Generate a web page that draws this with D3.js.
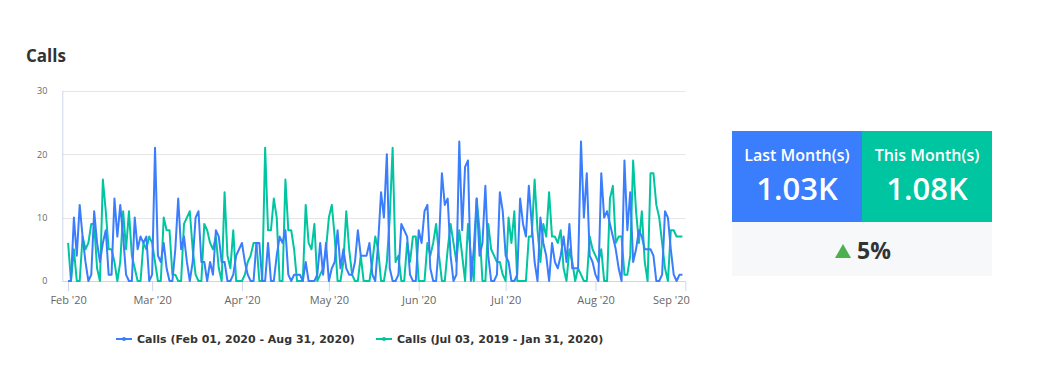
<!DOCTYPE html>
<html>
<head>
<meta charset="utf-8">
<script src="https://cdn.jsdelivr.net/npm/d3@7/dist/d3.min.js"></script>
<style>
  body { margin: 0; background: #fff; font-family: "Open Sans", sans-serif; }
</style>
</head>
<body>
<div id="chart"></div>
<script>
// daily calls, first series starts Feb 01 2020, 213 days
var startDate = new Date(2020, 1, 1);

var currentCalls = [
  0, 0, 10, 4, 12, 7, 3, 0, 1, 11,
  6, 3, 6, 8, 1, 1, 13, 7, 12, 7,
  1, 0, 0, 10, 5, 7, 6, 7, 0, 1,
  21, 4, 3, 6, 2, 0, 0, 5, 13, 5,
  7, 3, 0, 3, 10, 11, 3, 3, 0, 3,
  1, 8, 7, 3, 3, 0, 0, 1, 4, 5,
  6, 3, 1, 0, 0, 6, 6, 0, 0, 6,
  0, 0, 4, 7, 6, 8, 1, 0, 1, 1,
  1, 0, 3, 0, 0, 0, 1, 6, 1, 6,
  0, 2, 3, 8, 2, 5, 2, 1, 1, 3,
  8, 4, 4, 4, 6, 1, 0, 6, 14, 10,
  20, 2, 0, 0, 1, 9, 8, 7, 1, 0,
  0, 8, 6, 11, 12, 2, 0, 0, 6, 17,
  12, 13, 4, 0, 1, 22, 8, 18, 19, 0,
  5, 13, 4, 6, 15, 4, 0, 0, 1, 14,
  11, 4, 3, 0, 0, 1, 13, 9, 7, 15,
  9, 3, 0, 10, 6, 4, 0, 6, 3, 2,
  4, 7, 3, 9, 2, 2, 2, 22, 10, 17,
  4, 3, 1, 0, 17, 10, 11, 9, 7, 5,
  2, 0, 19, 8, 14, 3, 5, 8, 7, 5,
  5, 5, 4, 0, 0, 1, 11, 10, 5, 1,
  0, 1, 1
];

// previous period (Jul 03 2019 - Jan 31 2020), drawn on the same days
var previousCalls = [
  6, 0, 5, 0, 0, 7, 5, 6, 9, 9,
  2, 0, 16, 11, 5, 5, 3, 0, 3, 11,
  5, 11, 4, 2, 0, 0, 6, 5, 7, 6,
  3, 0, 0, 10, 8, 8, 1, 1, 0, 0,
  9, 10, 11, 5, 1, 0, 0, 9, 8, 6,
  5, 7, 2, 0, 14, 4, 2, 8, 0, 0,
  0, 1, 3, 4, 6, 6, 0, 0, 21, 8,
  8, 13, 10, 0, 0, 16, 8, 8, 5, 0,
  0, 0, 12, 6, 5, 9, 0, 1, 2, 5,
  10, 12, 7, 0, 0, 3, 11, 5, 1, 0,
  0, 4, 0, 0, 0, 3, 7, 5, 0, 0,
  3, 10, 21, 3, 4, 0, 0, 6, 3, 7,
  7, 0, 0, 0, 6, 4, 6, 9, 4, 0,
  0, 5, 9, 6, 3, 8, 4, 0, 9, 4,
  0, 13, 8, 0, 0, 9, 5, 4, 3, 3,
  1, 0, 10, 6, 11, 0, 0, 0, 0, 7,
  7, 16, 8, 3, 9, 7, 14, 7, 7, 6,
  8, 2, 0, 5, 3, 0, 2, 1, 0, 0,
  7, 5, 4, 3, 5, 0, 0, 13, 15, 6,
  7, 7, 1, 1, 4, 19, 11, 6, 11, 3,
  0, 17, 17, 12, 10, 6, 2, 0, 8, 8,
  7, 7, 7
];

var seriesNames = [
  "Calls (Feb 01, 2020 - Aug 31, 2020)",
  "Calls (Jul 03, 2019 - Jan 31, 2020)"
];
var yTicks = [0, 10, 20, 30];

var summaryLabels = ["Last Month(s)", "This Month(s)"];
var summaryValues = ["1.03K", "1.08K"];
var changeText = "5%";

var blue = "#3a7dfd";
var green = "#00c5a1";

var svgWidth = 1037;
var svgHeight = 374;

var plot = { left: 62.3, right: 685.3, top: 90.7, bottom: 281 };

var svg = d3.select("#chart")
  .append("svg")
  .attr("width", svgWidth)
  .attr("height", svgHeight)
  .style("font-family", "'Open Sans', sans-serif");

// title
svg.append("text")
  .attr("x", 26)
  .attr("y", 62)
  .attr("font-size", 17)
  .attr("font-weight", "bold")
  .attr("fill", "#333")
  .text("Calls");

var dates = currentCalls.map((v, i) => d3.timeDay.offset(startDate, i));

var xScale = d3.scaleTime()
  .domain([new Date(2020, 0, 30), new Date(2020, 8, 1)])
  .range([plot.left, plot.right]);

var yScale = d3.scaleLinear()
  .domain([0, 30])
  .range([plot.bottom, plot.top]);

// gridlines
svg.append("g")
  .selectAll("line")
  .data(yTicks.slice(1))
  .enter()
  .append("line")
  .attr("x1", plot.left)
  .attr("x2", plot.right)
  .attr("y1", d => Math.round(yScale(d)) + 0.5)
  .attr("y2", d => Math.round(yScale(d)) + 0.5)
  .attr("stroke", "#e6e6e6");

// y axis
var yAxis = svg.append("g")
  .attr("transform", `translate(${plot.left}, 0)`)
  .call(d3.axisLeft(yScale).tickValues(yTicks).tickSize(0).tickPadding(15));
yAxis.select(".domain").attr("stroke", "#ccd6eb").attr("d", `M0.5,${plot.top}V${plot.bottom}`);
yAxis.selectAll("text")
  .attr("font-family", "'Open Sans', sans-serif")
  .attr("font-size", 9)
  .attr("fill", "#666");

// x axis
var xAxis = svg.append("g")
  .attr("transform", `translate(0, ${plot.bottom})`)
  .call(d3.axisBottom(xScale)
    .ticks(d3.timeMonth.every(1))
    .tickFormat(d3.timeFormat("%b '%y"))
    .tickSize(10)
    .tickPadding(5));
xAxis.select(".domain").attr("stroke", "#ccd6eb").attr("d", `M${plot.left},0.5H${plot.right}`);
xAxis.selectAll(".tick line").attr("stroke", "#ccd6eb");
xAxis.selectAll("text")
  .attr("font-family", "'Open Sans', sans-serif")
  .attr("font-size", 11)
  .attr("fill", "#666");
// last label is pushed inside the chart edge
xAxis.selectAll(".tick:last-of-type text")
  .attr("text-anchor", "end")
  .attr("dx", 4);

// lines
var line = d3.line()
  .x((d, i) => xScale(dates[i]))
  .y(d => yScale(d));

svg.append("path")
  .datum(previousCalls)
  .attr("fill", "none")
  .attr("stroke", green)
  .attr("stroke-width", 2)
  .attr("stroke-linejoin", "round")
  .attr("d", line);

svg.append("path")
  .datum(currentCalls)
  .attr("fill", "none")
  .attr("stroke", blue)
  .attr("stroke-width", 2)
  .attr("stroke-linejoin", "round")
  .attr("d", line);

// legend
var legendItems = [
  { name: seriesNames[0], color: blue, x: 116 },
  { name: seriesNames[1], color: green, x: 376 }
];
var legend = svg.append("g")
  .selectAll("g")
  .data(legendItems)
  .enter()
  .append("g")
  .attr("transform", d => `translate(${d.x}, 339)`);

legend.append("line")
  .attr("x1", 0)
  .attr("x2", 16)
  .attr("stroke", d => d.color)
  .attr("stroke-width", 2);
legend.append("circle")
  .attr("cx", 8)
  .attr("r", 2)
  .attr("fill", d => d.color);
legend.append("text")
  .attr("x", 21)
  .attr("y", 4)
  .attr("font-family", "'DejaVu Sans', sans-serif")
  .attr("font-size", 11)
  .attr("font-weight", "bold")
  .attr("fill", "#333")
  .text(d => d.name);

// summary boxes
var boxes = svg.append("g");
var boxColors = [blue, green];
var boxX = d3.scaleBand().domain([0, 1]).range([732, 992]);

var box = boxes.selectAll("g")
  .data(summaryLabels)
  .enter()
  .append("g")
  .attr("transform", (d, i) => `translate(${boxX(i)}, 131)`);

box.append("rect")
  .attr("width", boxX.bandwidth())
  .attr("height", 91)
  .attr("fill", (d, i) => boxColors[i]);

box.append("text")
  .attr("x", boxX.bandwidth() / 2)
  .attr("y", 30)
  .attr("text-anchor", "middle")
  .attr("font-size", 16)
  .attr("font-weight", 600)
  .attr("fill", "#fff")
  .text(d => d);

box.append("text")
  .attr("x", boxX.bandwidth() / 2)
  .attr("y", 69)
  .attr("text-anchor", "middle")
  .attr("font-size", 31)
  .attr("font-weight", 600)
  .attr("fill", "#fff")
  .text((d, i) => summaryValues[i]);

boxes.append("rect")
  .attr("x", 732)
  .attr("y", 222)
  .attr("width", 260)
  .attr("height", 54)
  .attr("fill", "#f7f8fa");

boxes.append("path")
  .attr("d", "M835,258L851,258L843,244Z")
  .attr("fill", "#4caf50");

boxes.append("text")
  .attr("x", 857)
  .attr("y", 259)
  .attr("font-size", 23)
  .attr("font-weight", "bold")
  .attr("fill", "#333")
  .text(changeText);
</script>
</body>
</html>
